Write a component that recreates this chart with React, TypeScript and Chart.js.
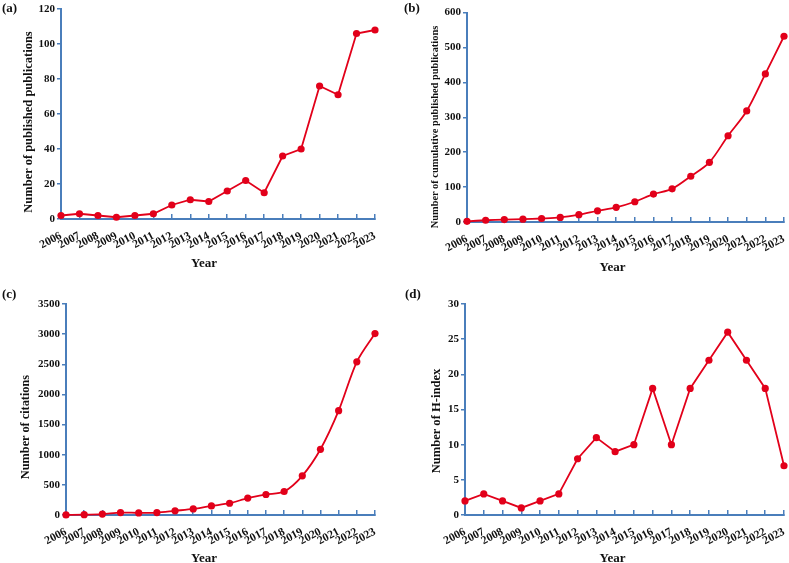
import React, { useEffect, useRef } from "react";
import { Chart, registerables } from "chart.js";

Chart.register(...registerables);

const years = ["2006", "2007", "2008", "2009", "2010", "2011", "2012", "2013", "2014", "2015", "2016", "2017", "2018", "2019", "2020", "2021", "2022", "2023"];
const publications = [2, 3, 2, 1, 2, 3, 8, 11, 10, 16, 22, 15, 36, 40, 76, 71, 106, 108];
const cumulative = [2, 5, 7, 8, 10, 13, 21, 32, 42, 58, 80, 95, 131, 171, 247, 318, 424, 532];
const citations = [2, 5, 15, 40, 35, 40, 70, 100, 150, 195, 280, 340, 390, 650, 1090, 1730, 2540, 3010];
const hIndex = [2, 3, 2, 1, 2, 3, 8, 11, 9, 10, 18, 10, 18, 22, 26, 22, 18, 7];

const RED = "#E2001A";
const AXIS = "#4A7EBB";
const FONT = "'Liberation Serif', 'Times New Roman', serif";

type Cfg = {
  label: string;
  values: number[];
  yMax: number;
  yStep: number;
  yTitle: string;
  yTitleSize: number;
  tension: number;
  left: number;
  top: number;
  w: number;
  h: number;
  yWidth: number;
  xHeight: number;
  padTop: number;
  padRight: number;
  labelX: number;
  labelY: number;
  yTitleX: number;
  yTitleY: number;
  xTitleX: number;
  xTitleY: number;
};

const panels: Cfg[] = [
  {
    label: "(a)", values: publications, yMax: 120, yStep: 20,
    yTitle: "Number of published publications", yTitleSize: 12.5, tension: 0,
    left: 0, top: 0, w: 394, h: 282, yWidth: 61, xHeight: 63, padTop: 9, padRight: 19,
    labelX: 2, labelY: 0, yTitleX: 28, yTitleY: 122, xTitleX: 204, xTitleY: 262,
  },
  {
    label: "(b)", values: cumulative, yMax: 600, yStep: 100,
    yTitle: "Number of cumulative published publications", yTitleSize: 10.4, tension: 0.3,
    left: 394, top: 0, w: 395, h: 282, yWidth: 73, xHeight: 60, padTop: 12.5, padRight: 5,
    labelX: 404, labelY: 0, yTitleX: 434.5, yTitleY: 126.5, xTitleX: 612.5, xTitleY: 266,
  },
  {
    label: "(c)", values: citations, yMax: 3500, yStep: 500,
    yTitle: "Number of citations", yTitleSize: 12.3, tension: 0.3,
    left: 0, top: 282, w: 394, h: 281, yWidth: 66, xHeight: 48, padTop: 22, padRight: 19,
    labelX: 2, labelY: 286, yTitleX: 25, yTitleY: 427, xTitleX: 204, xTitleY: 557,
  },
  {
    label: "(d)", values: hIndex, yMax: 30, yStep: 5,
    yTitle: "Number of H-index", yTitleSize: 12.6, tension: 0,
    left: 394, top: 282, w: 395, h: 281, yWidth: 71, xHeight: 48, padTop: 22, padRight: 5,
    labelX: 405, labelY: 286, yTitleX: 436, yTitleY: 420.5, xTitleX: 612.5, xTitleY: 557,
  },
];

function Panel({ cfg }: { cfg: Cfg }) {
  const ref = useRef<HTMLCanvasElement>(null);
  useEffect(() => {
    const chart = new Chart(ref.current as HTMLCanvasElement, {
      type: "line",
      data: {
        labels: years,
        datasets: [
          {
            data: cfg.values,
            borderColor: RED,
            backgroundColor: RED,
            borderWidth: 1.8,
            pointRadius: 3.6,
            pointHoverRadius: 3.6,
            pointBorderWidth: 0,
            pointBackgroundColor: RED,
            tension: cfg.tension,
            fill: false,
            clip: false as any,
          },
        ],
      },
      options: {
        animation: false,
        responsive: false,
        events: [],
        layout: { padding: { left: 0, top: cfg.padTop, right: cfg.padRight, bottom: 0 } },
        plugins: { legend: { display: false }, tooltip: { enabled: false } },
        scales: {
          x: {
            type: "category",
            offset: false,
            grid: { drawOnChartArea: false, drawTicks: true, tickLength: -5, color: AXIS, lineWidth: 1.5 },
            border: { display: true, color: AXIS, width: 2 },
            ticks: {
              autoSkip: false,
              maxRotation: 28,
              minRotation: 28,
              padding: 15,
              color: "#111",
              font: { family: FONT, weight: "bold", size: 11.5 },
            },
            title: { display: false },
            afterFit: (s: any) => {
              s.height = cfg.xHeight;
              s.paddingLeft = 0;
              s.paddingRight = 0;
            },
          },
          y: {
            min: 0,
            max: cfg.yMax,
            grid: { drawOnChartArea: false, drawTicks: true, tickLength: 4, color: AXIS, lineWidth: 1.5 },
            border: { display: true, color: AXIS, width: 2 },
            ticks: {
              stepSize: cfg.yStep,
              padding: 2,
              color: "#111",
              font: { family: FONT, weight: "bold", size: 11 },
              callback: (v: any) => String(v),
            },
            title: { display: false },
            afterFit: (s: any) => {
              s.width = cfg.yWidth;
              s.paddingTop = 0;
              s.paddingBottom = 0;
            },
          },
        },
      } as any,
    });
    return () => chart.destroy();
  }, [cfg]);

  const textBase: React.CSSProperties = {
    position: "absolute",
    color: "#111",
    whiteSpace: "nowrap",
    lineHeight: 1,
    fontFamily: FONT,
    fontWeight: "bold",
  };

  return (
    <>
      <div
        style={{
          position: "absolute",
          left: cfg.left,
          top: cfg.top,
          width: cfg.w,
          height: cfg.h,
        }}
      >
        <canvas ref={ref} width={cfg.w} height={cfg.h} style={{ width: cfg.w, height: cfg.h, display: "block" }} />
      </div>
      <div style={{ ...textBase, left: cfg.labelX, top: cfg.labelY, fontSize: 13, lineHeight: "16px" }}>{cfg.label}</div>
      <div
        style={{
          ...textBase,
          left: cfg.yTitleX,
          top: cfg.yTitleY,
          fontSize: cfg.yTitleSize,
          transform: "translate(-50%, -50%) rotate(-90deg)",
        }}
      >
        {cfg.yTitle}
      </div>
      <div
        style={{
          ...textBase,
          left: cfg.xTitleX,
          top: cfg.xTitleY,
          fontSize: 13,
          transform: "translate(-50%, -50%)",
        }}
      >
        Year
      </div>
    </>
  );
}

export default function App() {
  return (
    <div style={{ position: "absolute", left: 0, top: 0, width: 789, height: 563, background: "#fff", overflow: "hidden" }}>
      {panels.map((p) => (
        <Panel key={p.label} cfg={p} />
      ))}
    </div>
  );
}
